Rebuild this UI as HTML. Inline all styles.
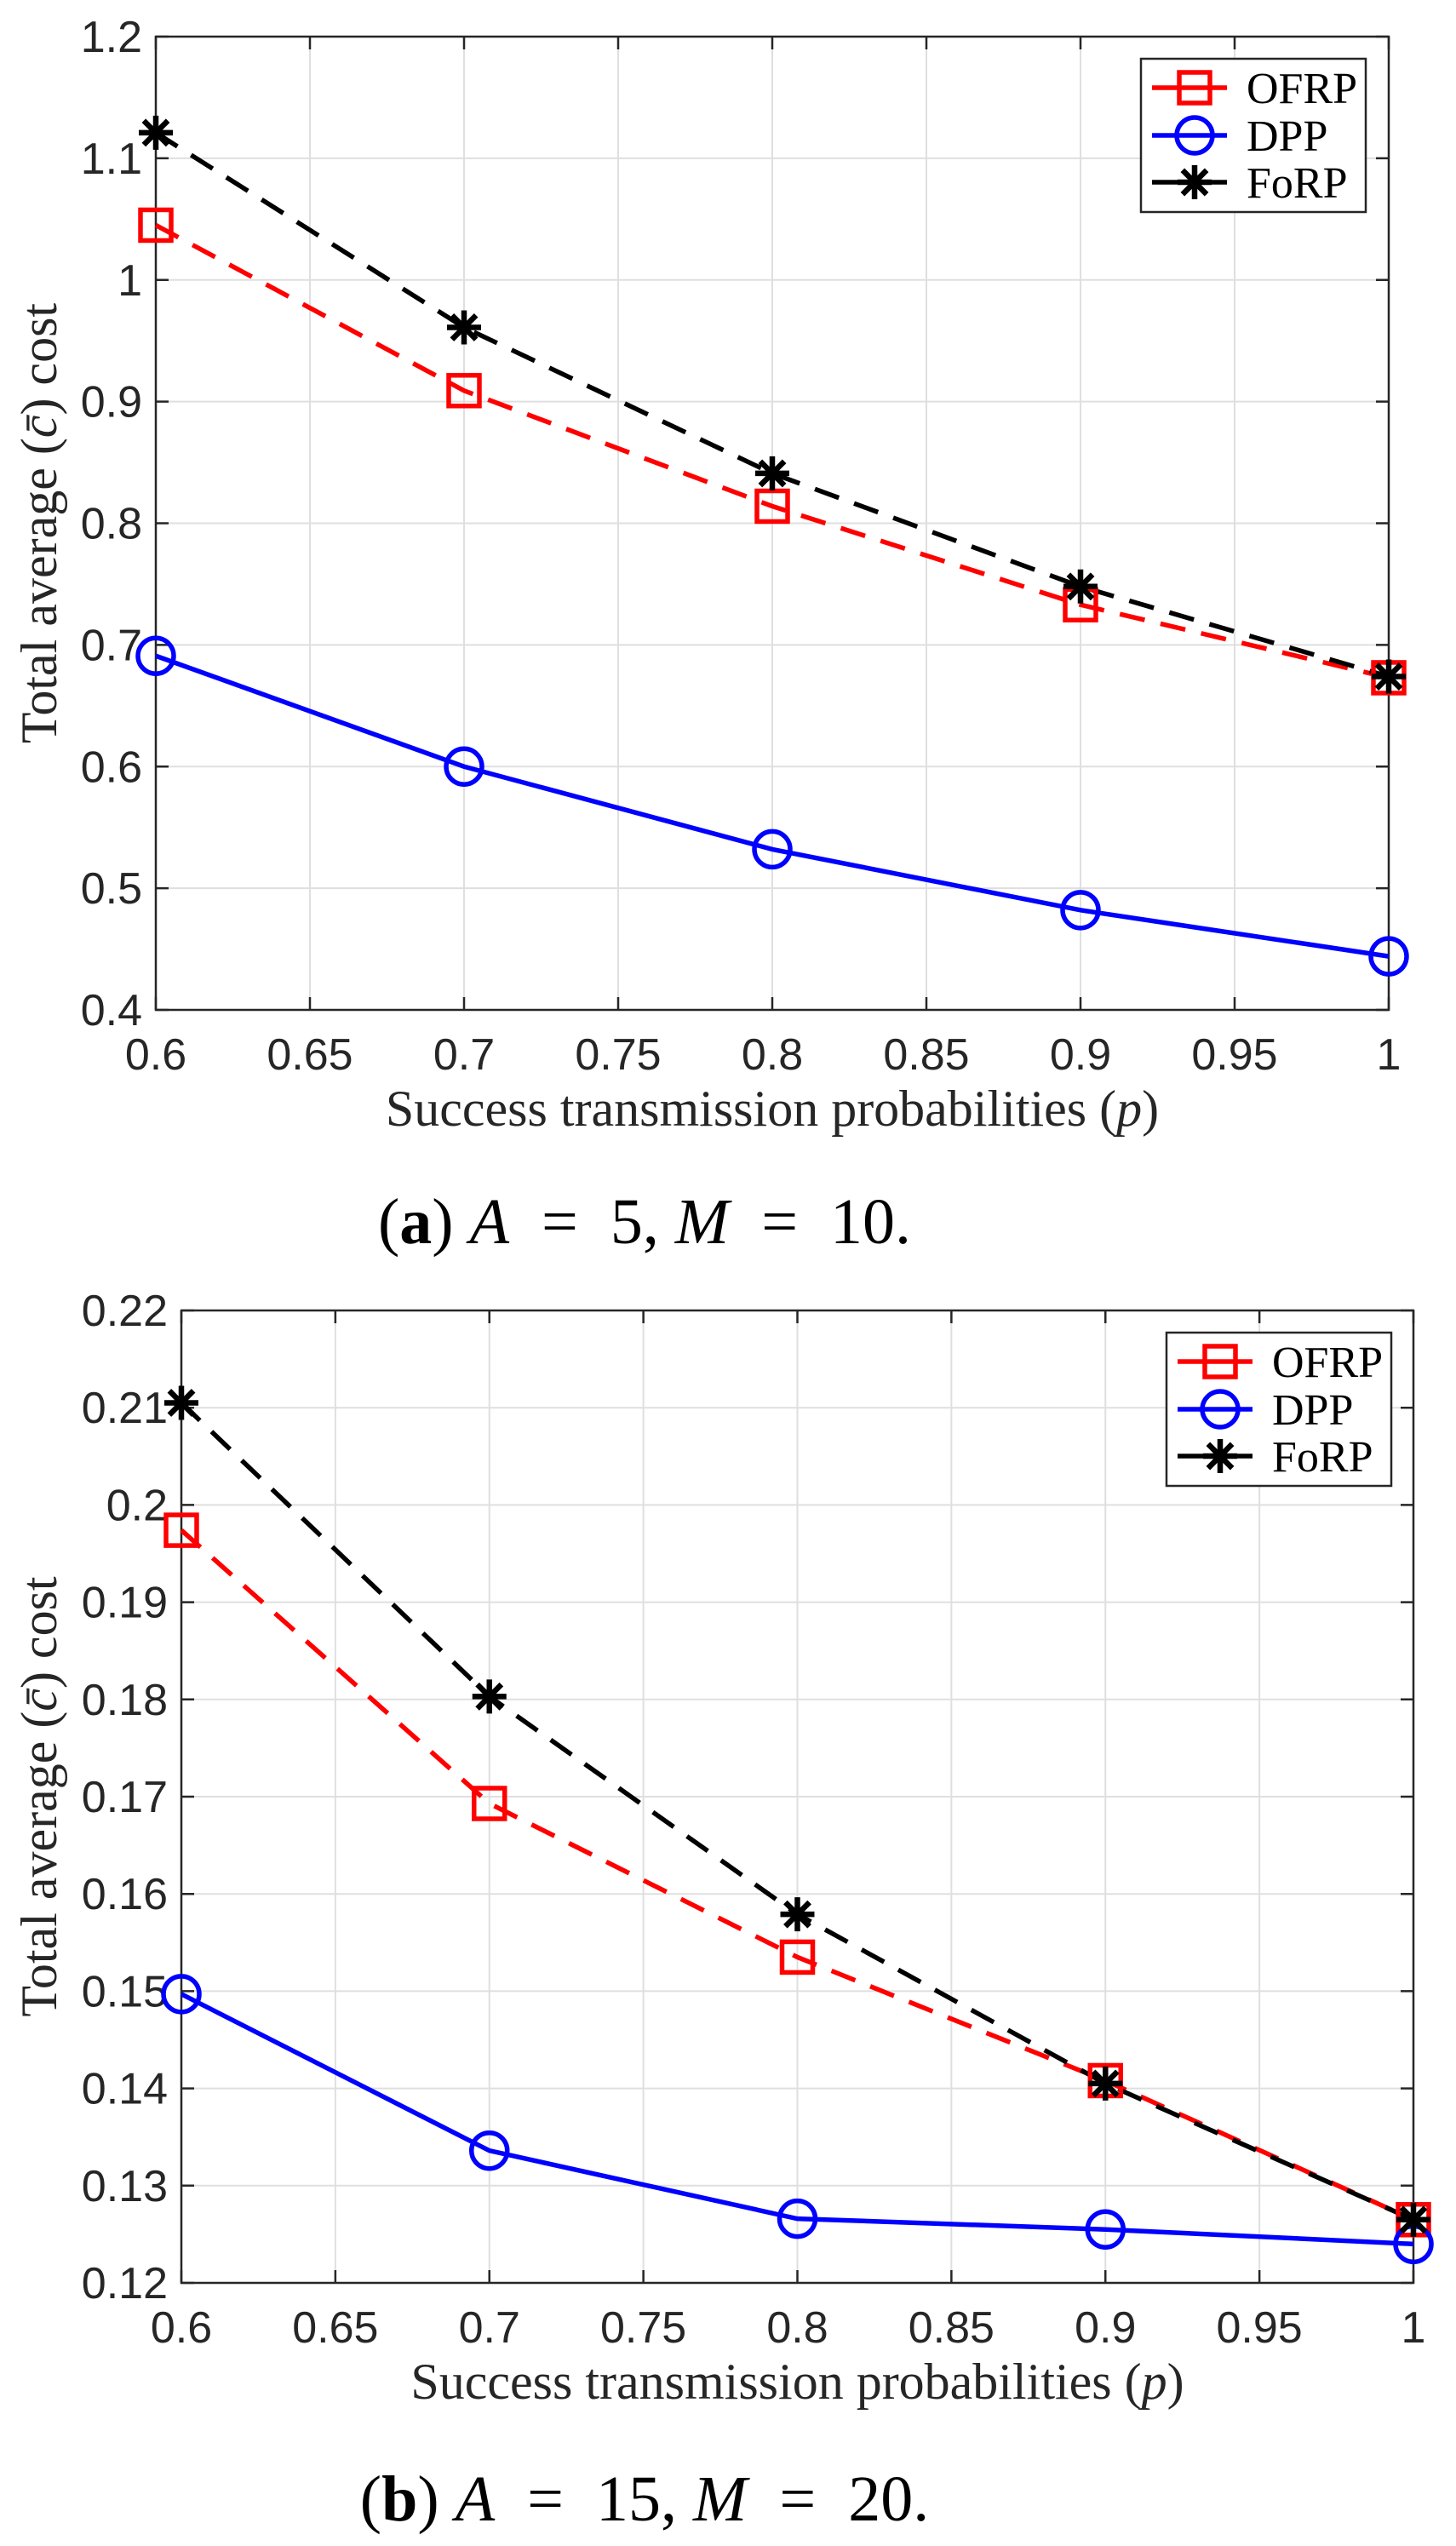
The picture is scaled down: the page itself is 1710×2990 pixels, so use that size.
<!DOCTYPE html>
<html><head><meta charset="utf-8"><style>
html,body{margin:0;padding:0;background:#fff;}
svg{display:block;}
</style></head><body>
<svg id="s" width="1710" height="2990" xmlns="http://www.w3.org/2000/svg"></svg>
<script>
const NS="http://www.w3.org/2000/svg";
const S=document.getElementById('s');
function el(t,a,txt){const e=document.createElementNS(NS,t);for(const k in a)e.setAttribute(k,a[k]);if(txt!==undefined)e.textContent=txt;S.appendChild(e);return e;}
function marker(kind,x,y,col){
 if(kind==='sq') el('rect',{x:x-18,y:y-18,width:36,height:36,fill:'none',stroke:col,'stroke-width':5.5});
 else if(kind==='ci') el('circle',{cx:x,cy:y,r:21,fill:'none',stroke:col,'stroke-width':5.5});
 else { const r=20; let d='';
  for(const a of [0,45,90,135]){const c=Math.cos(a*Math.PI/180)*r,s=Math.sin(a*Math.PI/180)*r;d+=`M${x-c},${y-s}L${x+c},${y+s}`;}
  el('path',{d:d,stroke:col,'stroke-width':6.5,fill:'none'});}
}
function chart(o){
 const {L,R,T,B,ymin,ymax,ystep,ydec,series,leg,cap}=o;
 const X=v=>L+(v-0.6)/0.4*(R-L), Y=v=>B-(v-ymin)/(ymax-ymin)*(B-T);
 const ny=Math.round((ymax-ymin)/ystep);
 for(let i=0;i<=8;i++){const x=L+i*(R-L)/8;
  if(i>0&&i<8) el('line',{x1:x,y1:T,x2:x,y2:B,stroke:'#dfdfdf','stroke-width':2});
  el('text',{x:x,y:B+70,'font-family':'Liberation Sans, sans-serif','font-size':52,fill:'#262626','text-anchor':'middle'},i==8?'1':(0.6+i*0.05).toFixed(i%2?2:1));
 }
 for(let i=0;i<=ny;i++){const y=B-i*(B-T)/ny;
  if(i>0&&i<ny) el('line',{x1:L,y1:y,x2:R,y2:y,stroke:'#dfdfdf','stroke-width':2});
  let v=(ymin+i*ystep); let s=v.toFixed(ydec).replace(/0+$/,'').replace(/\.$/,'');
  el('text',{x:L-16,y:y+18,'font-family':'Liberation Sans, sans-serif','font-size':52,fill:'#262626','text-anchor':'end'},s);
 }
 let d='';
 for(let i=0;i<=8;i++){const x=L+i*(R-L)/8;d+=`M${x},${B}v-15M${x},${T}v15`;}
 for(let i=0;i<=ny;i++){const y=B-i*(B-T)/ny;d+=`M${L},${y}h15M${R},${y}h-15`;}
 el('path',{d:d,stroke:'#262626','stroke-width':2.5,fill:'none'});
 el('rect',{x:L,y:T,width:R-L,height:B-T,fill:'none',stroke:'#262626','stroke-width':2.5});
 const xs=[0.6,0.7,0.8,0.9,1.0];
 for(const s of series){
  const pts=xs.map((x,i)=>X(x)+','+Y(s.v[i])).join(' ');
  el('polyline',{points:pts,fill:'none',stroke:s.c,'stroke-width':5.5,'stroke-dasharray':s.dash?'30 19':'none'});
 }
 for(const s of series){xs.forEach((x,i)=>marker(s.m,X(x),Y(s.v[i]),s.c));}
 el('rect',{x:leg[0],y:leg[1],width:264,height:180,fill:'#fff',stroke:'#262626','stroke-width':2.5});
 const rows=[34,90,145];
 series.forEach((s,i)=>{const y=leg[1]+rows[i];
  el('line',{x1:leg[0]+13,y1:y,x2:leg[0]+101,y2:y,stroke:s.c,'stroke-width':5.5});
  marker(s.m,leg[0]+63,y,s.c);
  el('text',{x:leg[0]+124,y:y+18,'font-family':'Liberation Serif, serif','font-size':52,fill:'#000'},s.n);
 });
 const xl=el('text',{x:(L+R)/2,y:B+136,'font-family':'Liberation Serif, serif','font-size':60,fill:'#262626','text-anchor':'middle'});
 xl.innerHTML='Success transmission probabilities (<tspan font-style="italic">p</tspan>)';
 const cy=(T+B)/2;
 const yl=el('text',{x:0,y:0,transform:`translate(66,${cy}) rotate(-90)`,'font-family':'Liberation Serif, serif','font-size':60,fill:'#262626','text-anchor':'middle'});
 yl.innerHTML='Total average (<tspan font-style="italic">c̄</tspan>) cost';
 const c=el('text',{x:cap[0],y:cap[1],'font-family':'Liberation Serif, serif','font-size':76,fill:'#000','text-anchor':'middle'});
 c.innerHTML=cap[2];
}
chart({L:183,R:1631,T:43,B:1186,ymin:0.4,ymax:1.2,ystep:0.1,ydec:1,leg:[1340,69],
 cap:[757,1460,'(<tspan font-weight="bold">a</tspan>) <tspan font-style="italic">A</tspan>  =  5, <tspan font-style="italic">M</tspan>  =  10.'],
 series:[
 {n:'OFRP',c:'#ff0000',m:'sq',dash:1,v:[1.045,0.909,0.814,0.733,0.673]},
 {n:'DPP',c:'#0000ff',m:'ci',dash:0,v:[0.691,0.600,0.532,0.482,0.444]},
 {n:'FoRP',c:'#000000',m:'st',dash:1,v:[1.121,0.961,0.841,0.748,0.674]}]});
chart({L:213,R:1660,T:1539,B:2681,ymin:0.12,ymax:0.22,ystep:0.01,ydec:2,leg:[1370,1565],
 cap:[757,2960,'(<tspan font-weight="bold">b</tspan>) <tspan font-style="italic">A</tspan>  =  15, <tspan font-style="italic">M</tspan>  =  20.'],
 series:[
 {n:'OFRP',c:'#ff0000',m:'sq',dash:1,v:[0.1974,0.1693,0.1535,0.1408,0.1265]},
 {n:'DPP',c:'#0000ff',m:'ci',dash:0,v:[0.1497,0.1336,0.1266,0.1255,0.1240]},
 {n:'FoRP',c:'#000000',m:'st',dash:1,v:[0.2105,0.1803,0.1579,0.1405,0.1265]}]});
S.querySelectorAll('text').forEach(t=>t.setAttribute('xml:space','preserve'));
S.querySelectorAll('text').forEach(t=>t.style.whiteSpace='pre');
</script>
</body></html>
